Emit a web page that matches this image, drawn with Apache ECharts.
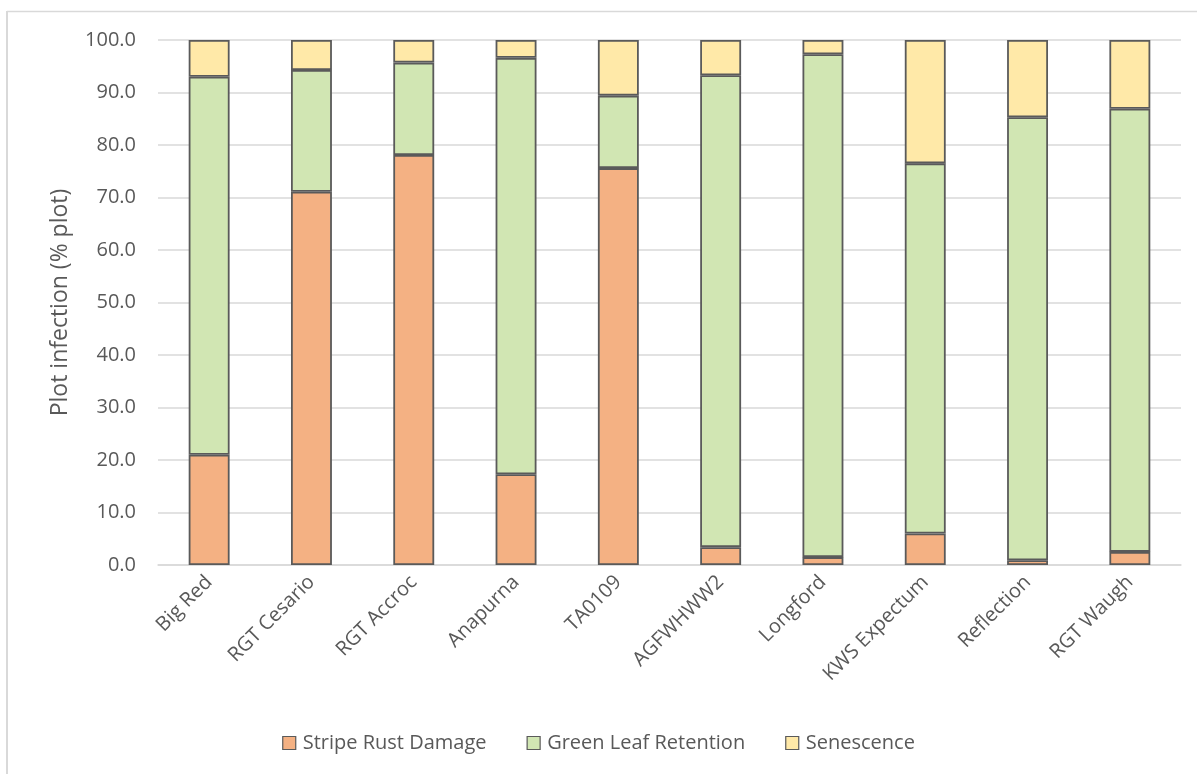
<!DOCTYPE html>
<html>
<head>
<meta charset="utf-8">
<script src="https://cdn.jsdelivr.net/npm/echarts@6/dist/echarts.min.js"></script>
<style>
  html, body { margin: 0; padding: 0; background: #fff; }
  #chart { width: 1197px; height: 774px; }
</style>
</head>
<body>
<div id="chart"></div>
<script>
// Wheat varieties and plot assessment (% plot)
const varieties = ['Big Red', 'RGT Cesario', 'RGT Accroc', 'Anapurna', 'TA0109',
  'AGFWHWW2', 'Longford', 'KWS Expectum', 'Reflection', 'RGT Waugh'];
const stripeRustDamage   = [21.0, 71.1, 78.1, 17.3, 75.6, 3.4, 1.5, 6.0, 0.9, 2.5];
const greenLeafRetention = [72.0, 23.2, 17.6, 79.3, 13.8, 89.9, 95.8, 70.5, 84.4, 84.4];
const senescence         = [7.0, 5.7, 4.3, 3.4, 10.6, 6.7, 2.7, 23.5, 14.7, 13.1];
const seriesNames = ['Stripe Rust Damage', 'Green Leaf Retention', 'Senescence'];
const seriesColors = ['#F4B183', '#D1E6B3', '#FFE9A8'];

const FONT = '"Open Sans", "Noto Sans", sans-serif';
const TEXT = '#595959';

const chart = echarts.init(document.getElementById('chart'), null, { renderer: 'canvas' });

function barSeries(name, data, color) {
  return {
    name: name,
    type: 'bar',
    stack: 'plot',
    data: data,
    barWidth: '40%',
    itemStyle: { color: color, borderColor: '#5a5a5a', borderWidth: 1.8 },
    emphasis: { disabled: true }
  };
}

chart.setOption({
  animation: false,
  backgroundColor: '#fff',
  textStyle: { fontFamily: FONT, color: TEXT },
  grid: { left: 158, right: 16, top: 40, bottom: 209, containLabel: false },
  legend: {
    bottom: 16,
    left: 'center',
    itemWidth: 13,
    itemHeight: 13,
    itemGap: 40,
    icon: 'rect',
    textStyle: { fontFamily: FONT, fontSize: 20, color: TEXT, padding: [0, 0, 0, 2] },
    data: seriesNames.map((n, i) => ({
      name: n,
      itemStyle: { color: seriesColors[i], borderColor: '#5a5a5a', borderWidth: 1.2 }
    }))
  },
  xAxis: {
    type: 'category',
    data: varieties,
    axisLine: { show: true, lineStyle: { color: '#d9d9d9', width: 1.5 } },
    axisTick: { show: false },
    axisLabel: {
      rotate: 45,
      interval: 0,
      margin: 14,
      fontFamily: FONT,
      fontSize: 20,
      color: TEXT
    }
  },
  yAxis: {
    type: 'value',
    min: 0,
    max: 100,
    interval: 10,
    name: 'Plot infection (% plot)',
    nameLocation: 'middle',
    nameGap: 86,
    nameRotate: 90,
    nameTextStyle: { fontFamily: FONT, fontSize: 23, color: TEXT },
    axisLine: { show: false },
    axisTick: { show: false },
    axisLabel: {
      margin: 22,
      fontFamily: FONT,
      fontSize: 20,
      color: TEXT,
      formatter: v => v.toFixed(1)
    },
    splitLine: { show: true, lineStyle: { color: '#d9d9d9', width: 1.5 } }
  },
  graphic: [
    { type: 'line', shape: { x1: 7, y1: 11.5, x2: 1197, y2: 11.5 }, style: { stroke: '#d9d9d9', lineWidth: 1.5 } },
    { type: 'line', shape: { x1: 7, y1: 11, x2: 7, y2: 774 }, style: { stroke: '#d9d9d9', lineWidth: 2 } }
  ],
  series: [
    barSeries(seriesNames[0], stripeRustDamage, seriesColors[0]),
    barSeries(seriesNames[1], greenLeafRetention, seriesColors[1]),
    barSeries(seriesNames[2], senescence, seriesColors[2])
  ]
});
</script>
</body>
</html>
